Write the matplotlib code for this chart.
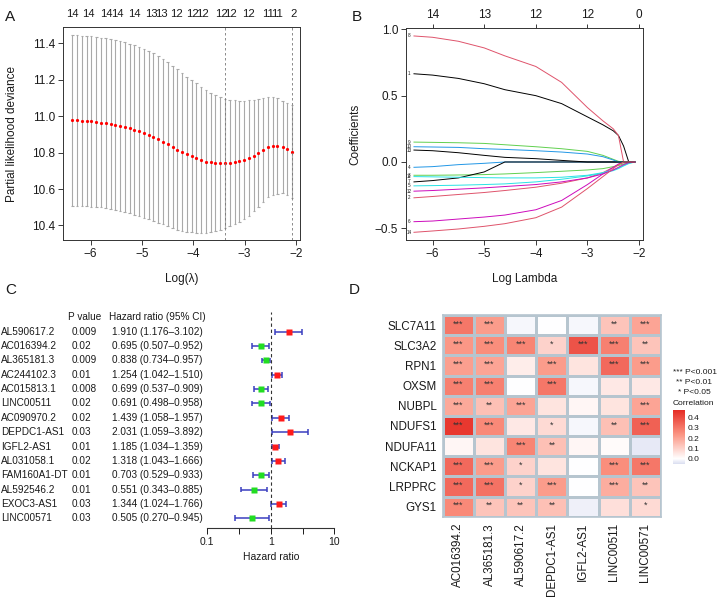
import matplotlib
matplotlib.use('Agg')
import matplotlib.pyplot as plt
import numpy as np
from matplotlib.colors import LinearSegmentedColormap, Normalize
from matplotlib.transforms import blended_transform_factory

plt.rcParams['font.family'] = ['Liberation Sans', 'DejaVu Sans']
plt.rcParams['axes.unicode_minus'] = True

W, H = 718, 598
TXT = '#1a1a1a'


def box(l, t, r, b):
    # pixel box -> figure fraction rect
    return [l / W, 1 - b / H, (r - l) / W, (b - t) / H]


# ---------- A: cross-validation curve ----------
log_lam = [-6.36, -6.27, -6.17, -6.08, -5.99, -5.89, -5.80, -5.71, -5.61, -5.52,
           -5.43, -5.34, -5.24, -5.15, -5.06, -4.96, -4.87, -4.78, -4.68, -4.59,
           -4.50, -4.40, -4.31, -4.22, -4.13, -4.03, -3.94, -3.85, -3.75, -3.66,
           -3.57, -3.47, -3.38, -3.29, -3.19, -3.10, -3.01, -2.91, -2.82, -2.73,
           -2.64, -2.54, -2.45, -2.36, -2.26, -2.17, -2.08]
cv_mean = [10.978, 10.977, 10.975, 10.973, 10.971, 10.968, 10.965, 10.961, 10.957, 10.952,
           10.946, 10.940, 10.933, 10.925, 10.916, 10.906, 10.896, 10.885, 10.873, 10.860,
           10.846, 10.832, 10.817, 10.803, 10.792, 10.781, 10.770, 10.760, 10.751, 10.747,
           10.743, 10.741, 10.741, 10.743, 10.747, 10.752, 10.760, 10.770, 10.783, 10.798,
           10.816, 10.831, 10.838, 10.836, 10.831, 10.821, 10.805]
cv_sd = [0.470, 0.469, 0.468, 0.468, 0.467, 0.467, 0.466, 0.466, 0.466, 0.466,
         0.465, 0.465, 0.465, 0.465, 0.465, 0.464, 0.462, 0.460, 0.457, 0.454,
         0.450, 0.445, 0.440, 0.433, 0.426, 0.418, 0.410, 0.402, 0.392, 0.383,
         0.373, 0.364, 0.356, 0.348, 0.341, 0.334, 0.326, 0.318, 0.305, 0.295,
         0.285, 0.277, 0.270, 0.262, 0.255, 0.252, 0.255]
nz_pos = [-6.36, -6.05, -5.69, -5.48, -5.14, -4.81, -4.62, -4.32, -4.01, -3.82,
          -3.46, -3.27, -2.93, -2.55, -2.36, -2.05]
nz_lab = ['14', '14', '14', '14', '14', '13', '13', '12', '12', '12',
          '12', '12', '12', '11', '11', '2']
lam_min = -3.38
lam_1se = -2.08

# ---------- B: coefficient paths ----------
path_x = [-6.36, -6.0, -5.5, -5.0, -4.6, -4.0, -3.5, -3.0, -2.7, -2.5, -2.4, -2.3, -2.2, -2.08]
paths = {
    1: [0.665, 0.655, 0.63, 0.59, 0.545, 0.50, 0.44, 0.34, 0.28, 0.235, 0.20, 0.12, 0.0, 0.0],
    2: [-0.27, -0.26, -0.245, -0.23, -0.215, -0.19, -0.16, -0.12, -0.08, -0.04, -0.02, -0.005, 0.0, 0.0],
    3: [-0.10, -0.10, -0.098, -0.095, -0.09, -0.08, -0.07, -0.06, -0.05, -0.035, -0.027, -0.015, -0.005, 0.0],
    4: [-0.04, -0.035, -0.02, -0.01, 0.0, 0.0, 0.0, 0.0, 0.0, 0.0, 0.0, 0.0, 0.0, 0.0],
    5: [-0.18, -0.178, -0.175, -0.17, -0.165, -0.15, -0.13, -0.105, -0.085, -0.065, -0.05, -0.03, -0.012, 0.0],
    6: [-0.45, -0.445, -0.43, -0.415, -0.40, -0.36, -0.29, -0.17, -0.09, -0.04, -0.015, 0.0, 0.0, 0.0],
    7: [-0.15, -0.14, -0.12, -0.075, 0.0, 0.0, 0.0, 0.0, 0.0, 0.0, 0.0, 0.0, 0.0, 0.0],
    8: [0.95, 0.94, 0.91, 0.86, 0.80, 0.72, 0.60, 0.41, 0.31, 0.25, 0.20, 0.0, 0.0, 0.0],
    9: [0.15, 0.148, 0.145, 0.14, 0.13, 0.115, 0.10, 0.08, 0.05, 0.02, 0.005, 0.0, 0.0, 0.0],
    10: [0.115, 0.113, 0.11, 0.10, 0.095, 0.085, 0.075, 0.06, 0.04, 0.015, 0.0, 0.0, 0.0, 0.0],
    11: [-0.11, -0.112, -0.115, -0.118, -0.12, -0.12, -0.115, -0.10, -0.08, -0.06, -0.045, -0.025, -0.008, 0.0],
    12: [-0.22, -0.215, -0.205, -0.195, -0.185, -0.17, -0.15, -0.12, -0.09, -0.06, -0.04, -0.02, -0.005, 0.0],
    13: [0.09, 0.085, 0.07, 0.05, 0.035, 0.025, 0.012, 0.0, 0.0, 0.0, 0.0, 0.0, 0.0, 0.0],
    14: [-0.53, -0.52, -0.505, -0.485, -0.465, -0.42, -0.34, -0.20, -0.11, -0.05, -0.02, 0.0, 0.0, 0.0],
}
top_df = ['14', '13', '12', '12', '0']
r_pal = ['black', '#DF536B', '#61D04F', '#2297E6', '#28E2E5', '#CD0BBC']

# ---------- C: forest plot ----------
genes = ['AL590617.2', 'AC016394.2', 'AL365181.3', 'AC244102.3', 'AC015813.1',
         'LINC00511', 'AC090970.2', 'DEPDC1-AS1', 'IGFL2-AS1', 'AL031058.1',
         'FAM160A1-DT', 'AL592546.2', 'EXOC3-AS1', 'LINC00571']
pvals = ['0.009', '0.02', '0.009', '0.01', '0.008', '0.02', '0.02', '0.03',
         '0.01', '0.02', '0.01', '0.01', '0.03', '0.03']
hr = [1.910, 0.695, 0.838, 1.254, 0.699, 0.691, 1.439, 2.031, 1.185, 1.318,
      0.703, 0.551, 1.344, 0.505]
hr_lo = [1.176, 0.507, 0.734, 1.042, 0.537, 0.498, 1.058, 1.059, 1.034, 1.043,
         0.529, 0.343, 1.024, 0.270]
hr_hi = [3.102, 0.952, 0.957, 1.510, 0.909, 0.958, 1.957, 3.892, 1.359, 1.666,
         0.933, 0.885, 1.766, 0.945]

# ---------- D: correlation heatmap ----------
rows = ['SLC7A11', 'SLC3A2', 'RPN1', 'OXSM', 'NUBPL', 'NDUFS1', 'NDUFA11',
        'NCKAP1', 'LRPPRC', 'GYS1']
cols = ['AC016394.2', 'AL365181.3', 'AL590617.2', 'DEPDC1-AS1', 'IGFL2-AS1',
        'LINC00511', 'LINC00571']
corr = [
    [0.30, 0.22, -0.01, 0.00, -0.01, 0.13, 0.20],
    [0.23, 0.25, 0.27, 0.10, 0.38, 0.28, 0.13],
    [0.21, 0.20, 0.04, 0.22, 0.06, 0.33, 0.22],
    [0.28, 0.28, 0.00, 0.30, -0.01, 0.05, 0.05],
    [0.19, 0.14, 0.20, 0.06, 0.02, 0.06, 0.20],
    [0.44, 0.26, 0.05, 0.08, -0.01, 0.14, 0.35],
    [0.02, 0.06, 0.27, 0.14, 0.02, 0.01, -0.03],
    [0.33, 0.22, 0.10, 0.06, 0.00, 0.25, 0.30],
    [0.33, 0.31, 0.10, 0.22, 0.00, 0.18, 0.13],
    [0.26, 0.13, 0.13, 0.14, -0.02, 0.07, 0.08],
]
stars = [
    ['***', '***', '', '', '', '**', '***'],
    ['***', '***', '***', '*', '***', '***', '**'],
    ['***', '***', '', '***', '', '***', '***'],
    ['***', '***', '', '***', '', '', ''],
    ['***', '**', '***', '', '', '', '***'],
    ['***', '***', '', '*', '', '**', '***'],
    ['', '', '***', '**', '', '', ''],
    ['***', '***', '*', '', '', '***', '***'],
    ['***', '***', '*', '***', '', '***', '**'],
    ['***', '**', '**', '**', '', '', '*'],
]

fig = plt.figure(figsize=(W / 100, H / 100), dpi=100)

# ===== Panel A =====
axA = fig.add_axes(box(63, 27, 300, 240))
x = np.array(log_lam)
m = np.array(cv_mean)
s = np.array(cv_sd)
axA.vlines(x, m - s, m + s, color='#a9a9a9', lw=0.8)
axA.hlines(m + s, x - 0.025, x + 0.025, color='#a9a9a9', lw=0.8)
axA.hlines(m - s, x - 0.025, x + 0.025, color='#a9a9a9', lw=0.8)
axA.plot(x, m, 'o', color='red', ms=2.3, mec='none')
axA.axvline(lam_min, color='#777777', ls=(0, (3, 3)), lw=0.6)
axA.axvline(lam_1se, color='#777777', ls=(0, (3, 3)), lw=0.6)
axA.set_xlim(-6.54, -1.92)
axA.set_ylim(10.32, 11.49)
axA.set_xticks([-6, -5, -4, -3, -2])
axA.set_yticks([10.4, 10.6, 10.8, 11.0, 11.2, 11.4])
axA.set_yticklabels(['10.4', '10.6', '10.8', '11.0', '11.2', '11.4'])
trA = blended_transform_factory(axA.transData, axA.transAxes)
for p, lab in zip(nz_pos, nz_lab):
    axA.text(p, 1.059, lab, transform=trA, ha='center', va='center',
             fontsize=8.1, color=TXT)
axA.set_xlabel('Log(λ)', fontsize=8.5, color=TXT)
axA.set_ylabel('Partial likelihood deviance', fontsize=8.5, color=TXT)
axA.xaxis.set_label_coords(0.5, -0.155)
axA.yaxis.set_label_coords(-0.19, 0.5)

# ===== Panel B =====
axB = fig.add_axes(box(405.7, 28, 642.7, 240))
for k in range(1, 15):
    c = r_pal[(k - 1) % 6]
    axB.plot(path_x, paths[k], color=c, lw=0.7)
    axB.text(-6.46, paths[k][0], str(k), fontsize=3.3, ha='center',
             va='center', color=TXT)
axB.set_xlim(-6.52, -1.93)
axB.set_ylim(-0.588, 1.01)
axB.set_xticks([-6, -5, -4, -3, -2])
axB.set_yticks([-0.5, 0.0, 0.5, 1.0])
axB.set_yticklabels(['−0.5', '0.0', '0.5', '1.0'])
topB = axB.secondary_xaxis('top')
topB.set_xticks([-6, -5, -4, -3, -2])
topB.set_xticklabels(top_df)
topB.tick_params(labelsize=8.5, colors=TXT, length=3, width=0.6, pad=2)
topB.spines['top'].set_visible(False)
axB.set_xlabel('Log Lambda', fontsize=8.5, color=TXT)
axB.set_ylabel('Coefficients', fontsize=8.5, color=TXT)
axB.xaxis.set_label_coords(0.5, -0.155)
axB.yaxis.set_label_coords(-0.189, 0.5)

for ax in (axA, axB):
    ax.tick_params(labelsize=8.5, colors=TXT, length=3.5, width=0.6, pad=2)
    for sp in ax.spines.values():
        sp.set_color('#333333')
        sp.set_linewidth(0.7)

# ===== Panel C =====
axC = fig.add_axes(box(207.3, 311.7, 334.3, 527.7))
axC.set_xscale('log')
axC.set_xlim(0.1, 10)
axC.set_ylim(-13.655, 1.393)
blue = '#3a3fc0'
for i in range(len(genes)):
    y = -i
    axC.hlines(y, hr_lo[i], hr_hi[i], color=blue, lw=1.1)
    axC.vlines([hr_lo[i], hr_hi[i]], y - 0.2, y + 0.2, color=blue, lw=1.1)
    col = '#ff1a1a' if hr[i] > 1 else '#22dd22'
    axC.plot(hr[i], y, 's', color=col, ms=5, mec='none')
axC.axvline(1, color='#333333', ls=(0, (3, 2.5)), lw=0.8)
for sp in ('top', 'right', 'left'):
    axC.spines[sp].set_visible(False)
axC.spines['bottom'].set_color('#333333')
axC.spines['bottom'].set_linewidth(0.8)
axC.set_yticks([])
axC.set_xticks([0.1, 10 ** -0.5, 1, 10 ** 0.5, 10])
axC.set_xticklabels(['0.1', '', '1', '', '10'])
axC.minorticks_off()
axC.tick_params(axis='x', labelsize=7.5, colors=TXT, length=4, width=0.7, pad=3)
axC.set_xlabel('Hazard ratio', fontsize=7.5, color=TXT, labelpad=3)
axC.patch.set_alpha(0)

trC = blended_transform_factory(fig.transFigure, axC.transData)
fsC = 7.2
axC.text(68.3 / W, 1.0, 'P value', transform=trC, fontsize=fsC, va='center',
         color=TXT, clip_on=False)
axC.text(109 / W, 1.0, 'Hazard ratio (95% CI)', transform=trC, fontsize=fsC,
         va='center', color=TXT, clip_on=False)
for i in range(len(genes)):
    y = -i
    axC.text(1 / W, y, genes[i], transform=trC, fontsize=fsC, va='center',
             color=TXT, clip_on=False)
    axC.text(71.7 / W, y, pvals[i], transform=trC, fontsize=fsC, va='center',
             color=TXT, clip_on=False)
    label = f'{hr[i]:.3f} ({hr_lo[i]:.3f}–{hr_hi[i]:.3f})'
    axC.text(111.7 / W, y, label, transform=trC, fontsize=fsC, va='center',
             color=TXT, clip_on=False)

# ===== Panel D =====
cmap = LinearSegmentedColormap.from_list(
    'corr', [(0.0, '#d9ddf0'), (0.05 / 0.52, '#ffffff'), (0.55, '#fb9482'),
             (1.0, '#e52b24')])
norm = Normalize(vmin=-0.05, vmax=0.47)
axD = fig.add_axes(box(442.7, 315, 661, 516.7))
mesh = axD.pcolormesh(np.array(corr), cmap=cmap, norm=norm,
                      edgecolors='#b6c5cf', linewidth=1.0)
axD.set_xlim(0, len(cols))
axD.set_ylim(len(rows), 0)
for r in range(len(rows)):
    for c in range(len(cols)):
        if stars[r][c]:
            axD.text(c + 0.5, r + 0.45, stars[r][c], ha='center', va='center',
                     fontsize=6.5, color='#333333')
axD.set_xticks(np.arange(len(cols)) + 0.5)
axD.set_xticklabels(cols, rotation=90, fontsize=8.4, color=TXT)
axD.set_yticks(np.arange(len(rows)) + 0.5)
axD.set_yticklabels(rows, fontsize=8.4, color=TXT)
axD.tick_params(length=0, pad=4.5)
for sp in axD.spines.values():
    sp.set_color('#b6c5cf')
    sp.set_linewidth(1.2)

fig.text(673 / W, 1 - 372 / H, '*** P<0.001', fontsize=6, va='center', color=TXT)
fig.text(675.5 / W, 1 - 382.5 / H, '** P<0.01', fontsize=6, va='center', color=TXT)
fig.text(678 / W, 1 - 393 / H, '* P<0.05', fontsize=6, va='center', color=TXT)
fig.text(673 / W, 1 - 403.5 / H, 'Correlation', fontsize=6, va='center', color=TXT)
cax = fig.add_axes(box(673, 410, 685, 464))
cb = fig.colorbar(mesh, cax=cax)
cb.outline.set_visible(False)
cb.set_ticks([0.0, 0.1, 0.2, 0.3, 0.4])
cb.ax.tick_params(labelsize=6, length=0, pad=2, colors=TXT)

# panel letters
for lab, px, py in [('A', 5, 10), ('B', 352, 10), ('C', 5, 283), ('D', 349, 283)]:
    fig.text(px / W, 1 - py / H, lab, fontsize=11, va='top', ha='left', color=TXT)

fig.savefig('out.png', dpi=100)
